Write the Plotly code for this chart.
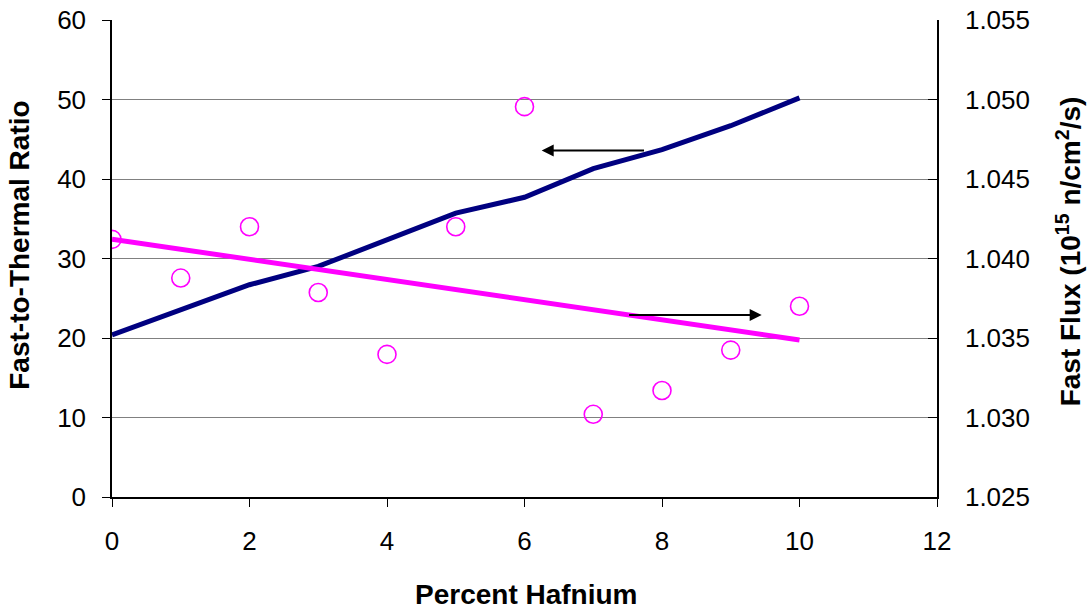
import numpy as np
import plotly.graph_objects as go

hafnium = [0, 1, 2, 3, 4, 5, 6, 7, 8, 9, 10]
fast_to_thermal = [20.4, 23.5, 26.7, 29.0, 32.3, 35.7, 37.7, 41.3, 43.7, 46.7, 50.2]
fast_flux = [1.0412, 1.03877, 1.0420, 1.03786, 1.03397, 1.0420, 1.04955, 1.0302, 1.0317, 1.03424, 1.0370]

x_title = "Percent Hafnium"
y_title = "Fast-to-Thermal Ratio"
y2_title = "Fast Flux (10<sup>15</sup> n/cm<sup>2</sup>/s)"

# arrows: (tail x, head x, y on left axis)
arrow_left = (7.76, 6.25, 43.6)
arrow_right = (7.50, 9.45, 22.9)

coef = np.polyfit(hafnium, fast_flux, 1)
trend_x = [hafnium[0], hafnium[-1]]
trend_y = list(np.polyval(coef, trend_x))

FONT = "Liberation Sans, Arial, sans-serif"
TICK = 26
TITLE = 28

fig = go.Figure()
fig.add_trace(go.Scatter(x=hafnium, y=fast_to_thermal, mode="lines",
                         line=dict(color="#000080", width=5), yaxis="y", showlegend=False))
fig.add_trace(go.Scatter(x=hafnium, y=fast_flux, mode="markers",
                         marker=dict(symbol="circle-open", size=18, color="#FF00FF",
                                     line=dict(width=1.6, color="#FF00FF")),
                         yaxis="y2", showlegend=False))
fig.add_trace(go.Scatter(x=trend_x, y=trend_y, mode="lines",
                         line=dict(color="#FF00FF", width=5), yaxis="y2", showlegend=False))

for tail, head, yv in (arrow_left, arrow_right):
    fig.add_annotation(x=head, y=yv, ax=tail, ay=yv, xref="x", yref="y", axref="x", ayref="y",
                       showarrow=True, arrowhead=2, arrowsize=1.2, arrowwidth=2,
                       arrowcolor="black", text="")

# axis titles
fig.add_annotation(text="<b>" + x_title + "</b>", xref="paper", yref="paper", x=0.502, y=-0.205,
                   xanchor="center", yanchor="middle", showarrow=False, font=dict(size=TITLE))
fig.add_annotation(text="<b>" + y_title + "</b>", xref="paper", yref="paper", x=-0.112, y=0.528,
                   xanchor="center", yanchor="middle", textangle=-90, showarrow=False,
                   font=dict(size=TITLE))
fig.add_annotation(text="<b>" + y2_title + "</b>", xref="paper", yref="paper", x=1.160, y=0.515,
                   xanchor="center", yanchor="middle", textangle=-90, showarrow=False,
                   font=dict(size=TITLE))

fig.update_layout(
    width=1092, height=612,
    margin=dict(l=112, r=155, t=20, b=115),
    paper_bgcolor="white", plot_bgcolor="white",
    font=dict(family=FONT, size=TICK, color="black"),
    xaxis=dict(range=[0, 12], dtick=2, showgrid=False, zeroline=False, automargin=False,
               showline=True, linecolor="black", linewidth=1.5,
               ticks="outside", ticklen=8, tickcolor="black", tickfont=dict(size=TICK),
               ticklabeloverflow="allow", ticklabelstandoff=12),
    yaxis=dict(range=[0, 60], dtick=10, showgrid=True, gridcolor="#808080", gridwidth=1.2,
               zeroline=False, showline=True, linecolor="black", linewidth=1.5, automargin=False,
               ticks="outside", ticklen=8, tickcolor="black", tickfont=dict(size=TICK),
               ticklabeloverflow="allow", ticklabelstandoff=11),
    yaxis2=dict(range=[1.025, 1.055], dtick=0.005, tickformat=".3f", overlaying="y", side="right",
                showgrid=False, zeroline=False, showline=True, linecolor="black", linewidth=1.5,
                automargin=False,
                ticks="inside", ticklen=9, tickcolor="black", tickfont=dict(size=TICK),
                ticklabeloverflow="allow", ticklabelstandoff=21),
)

fig.write_html("out.html", config={"displayModeBar": False},
               post_script="document.body.style.margin='0';document.body.style.overflow='hidden';")
